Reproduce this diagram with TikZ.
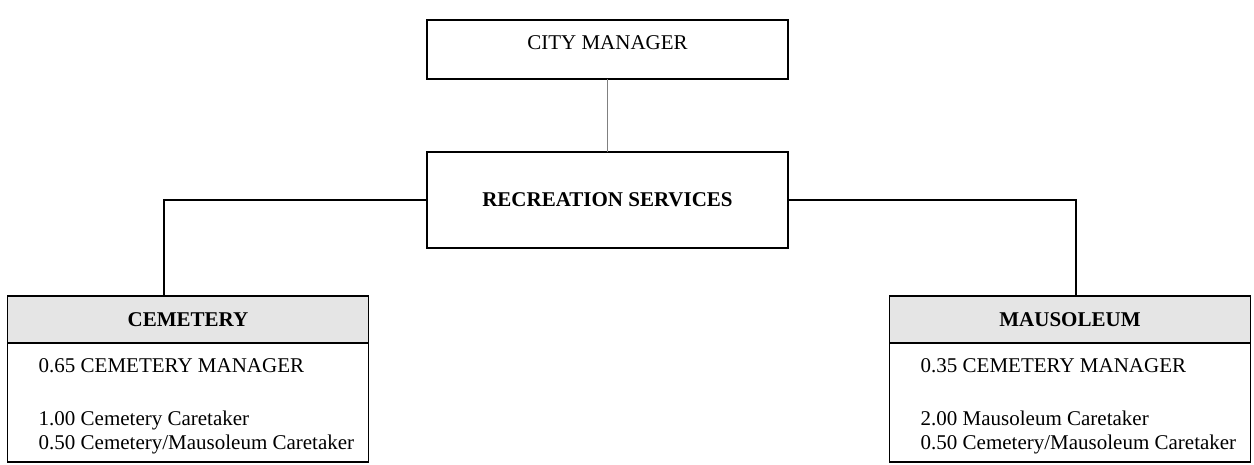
\documentclass[tikz,border=0pt]{standalone}
\usepackage{fontspec}
\setmainfont{Liberation Serif}
\usetikzlibrary{positioning}
\tikzset{
box/.style={draw, line width=1.3pt, minimum width=361pt, inner sep=0pt, outer sep=0pt, font=\fontsize{21}{24}\selectfont}, % plain framed box
head/.style={box, fill=black!10, minimum height=47pt, font=\fontsize{21}{24}\selectfont\bfseries}, % grey title strip of a unit
body/.style={box, minimum height=119pt}, % frame round the list of posts
posts/.style={anchor=west, align=left, inner sep=0pt, font=\fontsize{21}{24}\selectfont}, % the list itself
link/.style={line width=1.3pt}, % connector lines
}

\begin{document}
\begin{tikzpicture}[x=1pt, y=-1pt]
        \useasboundingbox (0,0) rectangle (1254,465);

        \node[box, minimum height=59pt, text depth=13pt] (mgr) at (607.5,49.5) {CITY MANAGER};
        \node[box, minimum height=96pt, font=\fontsize{21}{24}\selectfont\bfseries] (rec) at (607.5,200) {RECREATION SERVICES};

        \node[head] (cemhead) at (188,319.5) {CEMETERY};
        \node[body, below=0pt of cemhead] (cembody) {};
        \node[posts] (cemlist) at ([xshift=31pt, yshift=-4pt]cembody.west) {0.65 CEMETERY MANAGER\\[29pt]1.00 Cemetery Caretaker\\0.50 Cemetery/Mausoleum Caretaker};

        \node[head] (mauhead) at (1070,319.5) {MAUSOLEUM};
        \node[body, below=0pt of mauhead] (maubody) {};
        \node[posts] (maulist) at ([xshift=31pt, yshift=-4pt]maubody.west) {0.35 CEMETERY MANAGER\\[29pt]2.00 Mausoleum Caretaker\\0.50 Cemetery/Mausoleum Caretaker};

        \draw[link, black!50] (mgr) -- (rec);
        \draw[link] (rec.west) -| ([xshift=-24pt]cemhead.north);
        \draw[link] (rec.east) -| ([xshift=6pt]mauhead.north);
      \end{tikzpicture}
\end{document}
